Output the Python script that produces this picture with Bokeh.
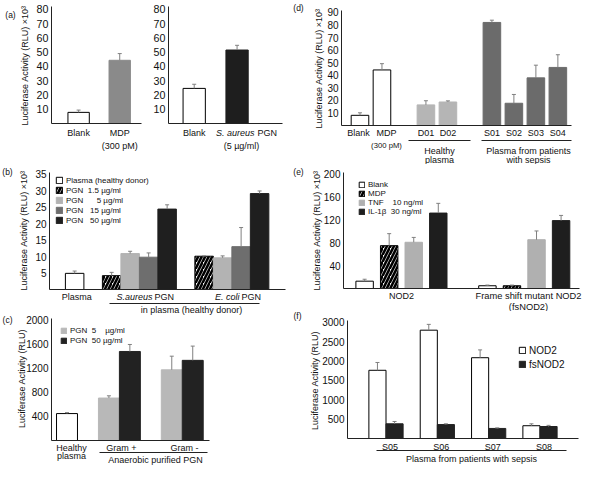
import math
from bokeh.plotting import figure
from bokeh.models import (Range1d, FixedTicker, Whisker, ColumnDataSource,
                          Legend, LegendItem, TeeHead)
from bokeh.core.properties import value
from bokeh.layouts import row, column
from bokeh.embed import file_html
from bokeh.resources import INLINE

# ---------------- data ----------------
# (a) left
a1_cats = ["Blank", "MDP"]
a1_vals = [7.8, 44.3]
a1_upper = [9.4, 49.0]
# (a) right
a2_cats = ["Blank", "S. aureus PGN"]
a2_vals = [24.6, 51.5]
a2_upper = [27.5, 54.8]
a_yticks = [10, 20, 30, 40, 50, 60, 70, 80]

# (d)
d_groups = [["Blank", "MDP"], ["D01", "D02"], ["S01", "S02", "S03", "S04"]]
d_vals = [8.1, 44.2, 16.4, 18.7, 82.0, 17.7, 37.9, 46.2]
d_upper = [10.1, 49.2, 19.7, 19.6, 83.8, 24.7, 48.0, 56.3]
d_yticks = [10, 20, 30, 40, 50, 60, 70, 80, 90]

# (b)
b_groups = ["Plasma", "S.aureus PGN", "E. coli PGN"]
b_series = ["Plasma (healthy donor)", "PGN\u00a0\u00a01.5 \u00b5g/ml",
            "PGN\u00a0\u00a0\u2007\u2008\u20085 \u00b5g/ml",
            "PGN\u00a0\u00a0\u200815 \u00b5g/ml", "PGN\u00a0\u00a0\u200850 \u00b5g/ml"]
b_plasma = [4.9]
b_plasma_up = [5.6]
b_pgn_1_5 = [4.2, 10.1]
b_pgn_1_5_up = [5.2, 10.2]
b_pgn_5 = [10.9, 9.6]
b_pgn_5_up = [11.6, 10.2]
b_pgn_15 = [9.8, 13.0]
b_pgn_15_up = [11.1, 18.8]
b_pgn_50 = [24.4, 29.1]
b_pgn_50_up = [25.7, 29.9]
b_yticks = [5, 10, 15, 20, 25, 30, 35]

# (c)
c_groups = ["Healthy plasma", "Gram +", "Gram -"]
c_series = ["PGN\u00a0\u00a05\u2007\u00a0\u00a0\u00b5g/ml", "PGN\u00a0\u00a050 \u00b5g/ml"]
c_plasma = [446]
c_plasma_up = [462]
c_pgn_5 = [703, 1170]
c_pgn_5_up = [740, 1396]
c_pgn_50 = [1474, 1327]
c_pgn_50_up = [1590, 1563]
c_yticks = [400, 800, 1200, 1600, 2000]

# (e)
e_groups = ["NOD2", "Frame shift mutant NOD2"]
e_series = ["Blank", "MDP", "TNF\u00a0\u00a0\u00a0\u00a010 ng/ml", "IL-1\u03b2\u00a0\u00a030 ng/ml"]
e_blank = [12.8, 4.8]
e_blank_up = [16.2, 6.0]
e_mdp = [75.0, 4.8]
e_mdp_up = [96.0, 6.0]
e_tnf = [80.9, 85.4]
e_tnf_up = [89.4, 100.7]
e_il1b = [132.0, 118.8]
e_il1b_up = [149.0, 127.9]
e_yticks = [40, 80, 120, 160, 200]

# (f)
f_cats = ["S05", "S06", "S07", "S08"]
f_series = ["NOD2", "fsNOD2"]
f_nod2 = [1763, 2800, 2088, 330]
f_nod2_up = [1965, 2950, 2290, 380]
f_fsnod2 = [380, 360, 260, 310]
f_fsnod2_up = [440, 380, 275, 340]
f_yticks = [500, 1000, 1500, 2000, 2500, 3000]

# ---------------- layout helpers ----------------
FONT = "Liberation Sans"
SX = 583 / 600
SY = 466 / 483
ERR = "#808080"
INK = "#111111"
LAB = "9px"


def X(v):
    return int(round(v * SX))


def Y(v):
    return int(round(v * SY))


def slots(sizes, gap):
    pos, cur = [], 0
    for s in sizes:
        for _ in range(s):
            pos.append(cur)
            cur += 1
        cur += gap
    return pos


def make_fig(cell, frame, xr, yr, yticks, tick_size="10px"):
    """cell/frame in reference pixels; the plot frame covers the whole cell and
    the axes are pinned (fixed_location) where the reference draws them."""
    cx0, cy0, cx1, cy1 = cell
    fl, ft, fr_, fb = frame
    W = X(cx1) - X(cx0)
    H = Y(cy1) - Y(cy0)
    kx = (X(fr_) - X(fl)) / (xr[1] - xr[0])
    ky = (Y(fb) - Y(ft)) / (yr[1] - yr[0])
    xs = xr[0] - (X(fl) - X(cx0)) / kx
    xe = xr[1] + (X(cx1) - X(fr_)) / kx
    ye = (Y(fb) - Y(cy0)) / ky
    ys = -(Y(cy1) - Y(fb)) / ky
    p = figure(width=W, height=H, x_range=Range1d(xs, xe), y_range=Range1d(ys, ye),
               output_backend="svg", toolbar_location=None, title=None, min_border=0)
    p.toolbar.logo = None
    p.grid.visible = False
    p.outline_line_color = None
    p.background_fill_color = "white"
    p.border_fill_color = "white"
    p.yaxis.fixed_location = xr[0]
    p.yaxis.bounds = (0, yr[1])
    p.yaxis.ticker = FixedTicker(ticks=yticks)
    p.yaxis.major_tick_out = 0
    p.yaxis.major_tick_in = 0
    p.yaxis.minor_tick_line_color = None
    p.yaxis.major_label_standoff = 3
    p.yaxis.major_label_text_font = FONT
    p.yaxis.major_label_text_font_size = tick_size
    p.yaxis.major_label_text_color = INK
    p.yaxis.axis_line_color = "#222222"
    p.xaxis.fixed_location = 0
    p.xaxis.bounds = (xr[0], xr[1])
    p.xaxis.ticker = FixedTicker(ticks=[])
    p.xaxis.major_tick_out = 0
    p.xaxis.major_tick_in = 0
    p.xaxis.minor_tick_line_color = None
    p.xaxis.major_label_text_font_size = "0px"
    p.xaxis.axis_line_color = "#222222"
    p._m = (cell, frame, xr, yr, kx, ky)
    return p


def DX(p, rx):
    cell, frame, xr, yr, kx, ky = p._m
    return xr[0] + (X(rx) - X(frame[0])) / kx


def DY(p, ry):
    cell, frame, xr, yr, kx, ky = p._m
    return (Y(frame[3]) - Y(ry)) / ky


def txt(p, text, ry, rx=None, data_x=None, size=LAB, align="center",
        style="normal", angle=0.0, x_offset=0):
    x = data_x if data_x is not None else DX(p, rx)
    p.text(x=[x], y=[DY(p, ry)], text=[text], text_font=value(FONT),
           text_font_size=value(size), text_font_style=value(style),
           text_align=value(align), text_baseline=value("middle"),
           text_color=INK, angle=angle, x_offset=x_offset)


def underline(p, rx0, rx1, ry):
    y = DY(p, ry)
    p.segment(x0=[DX(p, rx0)], y0=[y], x1=[DX(p, rx1)], y1=[y],
              line_color="#222222", line_width=1)


def bars(p, x, top, up, width, fill, line=None, hatch=False):
    src = ColumnDataSource(dict(x=x, top=top, up=up))
    kw = dict(x="x", top="top", bottom=0, width=width, source=src,
              fill_color=fill, line_color=line if line else fill, line_width=1)
    if hatch:
        kw.update(hatch_pattern="right_diagonal_line", hatch_color="black",
                  hatch_scale=7, hatch_weight=2.6)
    r = p.vbar(**kw)
    w = Whisker(source=src, base="x", upper="up", lower="top", dimension="height",
                line_color=ERR, line_width=1, level="annotation",
                upper_head=TeeHead(size=4, line_color=ERR, line_width=1),
                lower_head=None)
    p.add_layout(w)
    return r


def legend(p, items, glyph_left, first_center, row_h, glyph, font, standoff=3):
    cell, frame, xr, yr, kx, ky = p._m
    n = len(items)
    rh = int(round(row_h * SY))
    top_s = Y(cell[3]) - Y(first_center - row_h / 2.0)
    leg = Legend(items=items, location=(X(glyph_left) - X(cell[0]), top_s - n * rh),
                 orientation="vertical", padding=0, margin=0, spacing=0,
                 label_height=rh, glyph_height=glyph, glyph_width=glyph,
                 label_standoff=standoff, label_text_font=FONT,
                 label_text_font_size=font, label_text_color=INK,
                 background_fill_alpha=0, border_line_alpha=0)
    p.add_layout(leg)


TITLE = "Luciferase Activity (RLU) \u00d710\u00b3"
UP = math.pi / 2
TS = "9px"
PL = "8.5px"

# ---------------- (a) left ----------------
pa1 = make_fig((0, 0, 150, 170), (52, 6, 145, 128), (-0.66, 1.53), (0, 82), a_yticks, "10.7px")
a1_pos = slots([1, 1], 0)
bars(pa1, [a1_pos[0]], [a1_vals[0]], [a1_upper[0]], 0.52, "white", "black")
bars(pa1, [a1_pos[1]], [a1_vals[1]], [a1_upper[1]], 0.52, "#8a8a8a")
txt(pa1, a1_cats[0], 137, data_x=a1_pos[0])
txt(pa1, a1_cats[1], 137, data_x=a1_pos[1])
txt(pa1, "(300 pM)", 150, data_x=a1_pos[1])
txt(pa1, TITLE, 67, rx=25, angle=UP, size=TS)
txt(pa1, "(a)", 15, rx=10, size=PL)

# ---------------- (a) right ----------------
pa2 = make_fig((150, 0, 300, 170), (173, 6, 290, 128), (-0.6, 2.06), (0, 82), a_yticks, "10.7px")
a2_pos = slots([1, 1], 0)
bars(pa2, [a2_pos[0]], [a2_vals[0]], [a2_upper[0]], 0.52, "white", "black")
bars(pa2, [a2_pos[1]], [a2_vals[1]], [a2_upper[1]], 0.52, "#1e1e1e")
txt(pa2, a2_cats[0], 137, data_x=a2_pos[0])
txt(pa2, "S. aureus", 137, rx=261, align="right", style="italic")
txt(pa2, "PGN", 137, rx=264, align="left")
txt(pa2, "(5 \u00b5g/ml)", 150, rx=248)

# ---------------- (d) ----------------
pd = make_fig((300, 0, 600, 170), (351, 10, 588, 130), (-0.84, 9.62), (0, 91.5), d_yticks)
d_pos = slots([len(g) for g in d_groups], 1)
d_cols = ["white", "white", "#b5b5b5", "#b5b5b5", "#6b6b6b", "#6b6b6b", "#6b6b6b", "#6b6b6b"]
for i in range(len(d_vals)):
    bars(pd, [d_pos[i]], [d_vals[i]], [d_upper[i]], 0.8, d_cols[i],
         "black" if d_cols[i] == "white" else None)
d_names = [c for g in d_groups for c in g]
txt(pd, d_names[0], 137, rx=368)
txt(pd, d_names[1], 137, rx=397)
txt(pd, "(300 pM)", 150, rx=397, size="7.7px")
for i in range(2, len(d_names)):
    txt(pd, d_names[i], 137, data_x=d_pos[i])
underline(pd, 420, 484, 145)
underline(pd, 495, 588, 145)
txt(pd, "Healthy", 155, rx=452)
txt(pd, "plasma", 165, rx=452)
txt(pd, "Plasma from patients", 155, rx=543)
txt(pd, "with sepsis", 165, rx=543)
txt(pd, TITLE, 70, rx=327, angle=UP, size=TS)
txt(pd, "(d)", 7, rx=307, size=PL)

# ---------------- (b) ----------------
pb = make_fig((0, 170, 300, 326), (50, 178, 293, 300), (-1.36, 11.4), (0, 35.5), b_yticks)
b_pos = slots([1, 4, 4], 1)
r0 = bars(pb, [b_pos[0]], b_plasma, b_plasma_up, 1.0, "white", "black")
r1 = bars(pb, [b_pos[1], b_pos[5]], b_pgn_1_5, b_pgn_1_5_up, 1.0, "white", "black", hatch=True)
r2 = bars(pb, [b_pos[2], b_pos[6]], b_pgn_5, b_pgn_5_up, 1.0, "#b3b3b3")
r3 = bars(pb, [b_pos[3], b_pos[7]], b_pgn_15, b_pgn_15_up, 1.0, "#6e6e6e")
r4 = bars(pb, [b_pos[4], b_pos[8]], b_pgn_50, b_pgn_50_up, 1.0, "#1f1f1f")
legend(pb, [LegendItem(label=s, renderers=[r]) for s, r in zip(b_series, [r0, r1, r2, r3, r4])],
       57, 186, 10, 8, "8px")
txt(pb, b_groups[0], 307, data_x=b_pos[0], x_offset=2)
txt(pb, "S.aureus", 307, rx=156, align="right", style="italic")
txt(pb, "PGN", 307, rx=158, align="left")
txt(pb, "E. coli", 307, rx=246, align="right", style="italic")
txt(pb, "PGN", 307, rx=248, align="left")
underline(pb, 112, 267, 314)
txt(pb, "in plasma (healthy donor)", 320.5, rx=197)
txt(pb, TITLE, 238, rx=24, angle=UP, size=TS)
txt(pb, "(b)", 177, rx=7, size=PL)

# ---------------- (c) ----------------
pc = make_fig((0, 326, 300, 483), (52, 330, 215, 456), (-0.74, 6.8), (0, 2020), c_yticks)
c_pos = slots([1, 2, 2], 1)
bars(pc, [c_pos[0]], c_plasma, c_plasma_up, 1.0, "white", "black")
rc1 = bars(pc, [c_pos[1], c_pos[3]], c_pgn_5, c_pgn_5_up, 1.0, "#b8b8b8")
rc2 = bars(pc, [c_pos[2], c_pos[4]], c_pgn_50, c_pgn_50_up, 1.0, "#222222")
legend(pc, [LegendItem(label=c_series[0], renderers=[rc1]),
            LegendItem(label=c_series[1], renderers=[rc2])], 62, 342, 10, 7, "8px")
txt(pc, "Healthy", 463, rx=73)
txt(pc, "plasma", 472, rx=73)
txt(pc, c_groups[1], 463, rx=125)
txt(pc, c_groups[2], 463, rx=189)
underline(pc, 102, 213, 468)
txt(pc, "Anaerobic purified PGN", 476, rx=160)
txt(pc, "Luciferase Activity (RLU)", 392, rx=22, angle=UP, size=TS)
txt(pc, "(c)", 331, rx=7, size=PL)

# ---------------- (e) ----------------
pe = make_fig((300, 170, 600, 322), (353, 178, 596, 298), (-0.86, 8.75), (0, 203), e_yticks)
e_pos = slots([4, 4], 1)
re1 = bars(pe, [e_pos[0], e_pos[4]], e_blank, e_blank_up, 0.71, "white", "black")
re2 = bars(pe, [e_pos[1], e_pos[5]], e_mdp, e_mdp_up, 0.71, "white", "black", hatch=True)
re3 = bars(pe, [e_pos[2], e_pos[6]], e_tnf, e_tnf_up, 0.71, "#b0b0b0")
re4 = bars(pe, [e_pos[3], e_pos[7]], e_il1b, e_il1b_up, 0.71, "#1e1e1e")
legend(pe, [LegendItem(label=s, renderers=[r]) for s, r in zip(e_series, [re1, re2, re3, re4])],
       368, 191, 9.8, 7, "8px")
txt(pe, e_groups[0], 306, rx=413)
txt(pe, e_groups[1], 306, rx=543, size="9.3px")
txt(pe, "(fsNOD2)", 317, rx=543, size="9.3px")
txt(pe, TITLE, 238, rx=325, angle=UP, size=TS)
txt(pe, "(e)", 177, rx=307, size=PL)

# ---------------- (f) ----------------
pf = make_fig((300, 322, 600, 483), (357, 332, 595, 454), (-1.75, 11.75), (0, 3050), f_yticks)
f_pos = slots([2, 2, 2, 2], 1)
rf1 = bars(pf, f_pos[0::2], f_nod2, f_nod2_up, 1.0, "white", "black")
rf2 = bars(pf, f_pos[1::2], f_fsnod2, f_fsnod2_up, 1.0, "#222222")
legend(pf, [LegendItem(label=f_series[0], renderers=[rf1]),
            LegendItem(label=f_series[1], renderers=[rf2])], 533, 363, 14, 8, "10px")
for i, c in enumerate(f_cats):
    txt(pf, c, 462, data_x=(f_pos[2 * i] + f_pos[2 * i + 1]) / 2.0, x_offset=4)
underline(pf, 387, 583, 466)
txt(pf, "Plasma from patients with sepsis", 475, rx=485)
txt(pf, "Luciferase Activity (RLU)", 394, rx=323, angle=UP, size=TS)
txt(pf, "(f)", 327, rx=306, size=PL)

lay = row(column(row(pa1, pa2, spacing=0), pb, pc, spacing=0),
          column(pd, pe, pf, spacing=0), spacing=0)

open("out.html", "w").write(file_html(lay, INLINE, title="Luciferase activity"))
